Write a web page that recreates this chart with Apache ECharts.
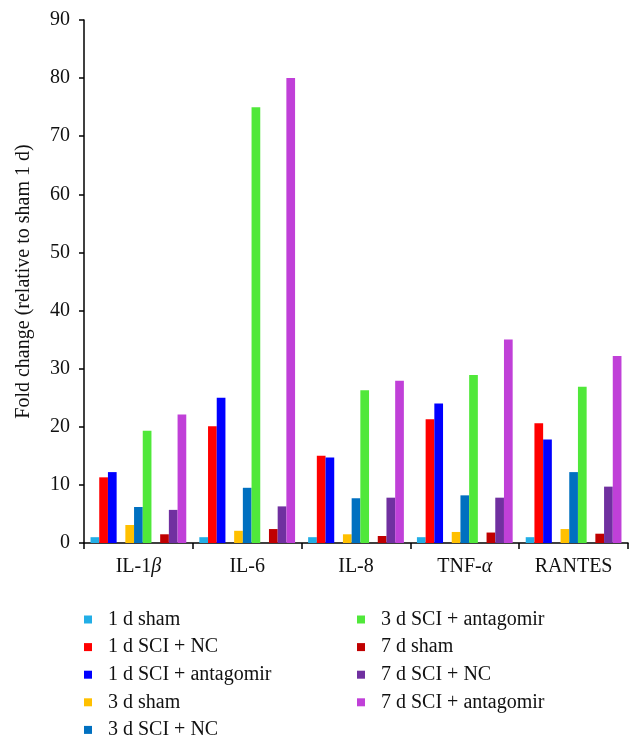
<!DOCTYPE html>
<html>
<head>
<meta charset="utf-8">
<script src="https://cdn.jsdelivr.net/npm/echarts@6/dist/echarts.min.js"></script>
<style>html,body{margin:0;padding:0;background:#fff}#c{width:643px;height:748px}</style>
</head>
<body>
<div id="c"></div>
<script>
const categories = ['IL-1β', 'IL-6', 'IL-8', 'TNF-α', 'RANTES'];
const seriesNames = ['1 d sham', '1 d SCI + NC', '1 d SCI + antagomir', '3 d sham', '3 d SCI + NC', '3 d SCI + antagomir', '7 d sham', '7 d SCI + NC', '7 d SCI + antagomir'];
const sham1d = [1.0, 1.0, 1.0, 1.0, 1.0];
const sciNC1d = [11.3, 20.1, 15.0, 21.3, 20.6];
const sciAnt1d = [12.2, 25.0, 14.7, 24.0, 17.8];
const sham3d = [3.1, 2.1, 1.5, 1.9, 2.4];
const sciNC3d = [6.2, 9.5, 7.7, 8.2, 12.2];
const sciAnt3d = [19.3, 75.0, 26.3, 28.9, 26.9];
const sham7d = [1.5, 2.4, 1.2, 1.8, 1.6];
const sciNC7d = [5.7, 6.3, 7.8, 7.8, 9.7];
const sciAnt7d = [22.1, 80.0, 27.9, 35.0, 32.2];
const yTicks = [0, 10, 20, 30, 40, 50, 60, 70, 80, 90];

const colors = ['#22AEE6', '#FF0000', '#0000FF', '#FFC000', '#0070C0', '#50E83A', '#C00000', '#7030A0', '#C040D8'];
const values = [sham1d, sciNC1d, sciAnt1d, sham3d, sciNC3d, sciAnt3d, sham7d, sciNC7d, sciAnt7d];

const font = '"Liberation Serif", "DejaVu Serif", serif';
const series = [];
values.forEach((v, i) => {
  series.push({
    name: seriesNames[i], type: 'bar', data: v,
    itemStyle: { color: colors[i] },
    barGap: '0%', barCategoryGap: '12%'
  });
  if (i === 2 || i === 5) {
    // empty spacer slot between day groups
    series.push({ name: 'spacer' + i, type: 'bar', data: [], barGap: '0%', barCategoryGap: '12%', silent: true });
  }
});

const legendBase = {
  orient: 'vertical', icon: 'rect', itemWidth: 8, itemHeight: 8, itemGap: 7.6,
  textStyle: { fontFamily: font, fontSize: 20, color: '#111', lineHeight: 20, padding: [0, 0, 0, 11] },
  selectedMode: false, top: 604.5
};

const chart = echarts.init(document.getElementById('c'), null, { renderer: 'canvas' });
chart.setOption({
  animation: false,
  color: colors,
  grid: { left: 84, right: 15, top: 20, bottom: 205, containLabel: false },
  legend: [
    Object.assign({}, legendBase, { left: 79, data: seriesNames.slice(0, 5) }),
    Object.assign({}, legendBase, { left: 352, data: seriesNames.slice(5) })
  ],
  xAxis: {
    type: 'category', data: categories,
    axisLine: { lineStyle: { color: '#000', width: 1.5 } },
    axisTick: { show: true, interval: 0, length: 6, lineStyle: { color: '#000', width: 1.5 } },
    axisLabel: {
      interval: 0, hideOverlap: false,
      fontFamily: font, fontSize: 20, color: '#111', margin: 14,
      formatter: function (v) { return v.replace(/([βα])/g, '{g|$1}'); },
      rich: { g: { fontFamily: font, fontSize: 20, fontStyle: 'italic', color: '#111' } }
    }
  },
  yAxis: {
    type: 'value', min: yTicks[0], max: yTicks[yTicks.length - 1], interval: 10,
    name: 'Fold change (relative to sham 1 d)', nameLocation: 'middle', nameGap: 50,
    nameTextStyle: { fontFamily: font, fontSize: 20, color: '#111' },
    axisLine: { show: true, lineStyle: { color: '#000', width: 1.5 } },
    axisTick: { show: true, length: 5, lineStyle: { color: '#000', width: 1.5 } },
    axisLabel: { fontFamily: font, fontSize: 20, color: '#111', margin: 14 },
    splitLine: { show: false }
  },
  series: series
});
</script>
</body>
</html>
